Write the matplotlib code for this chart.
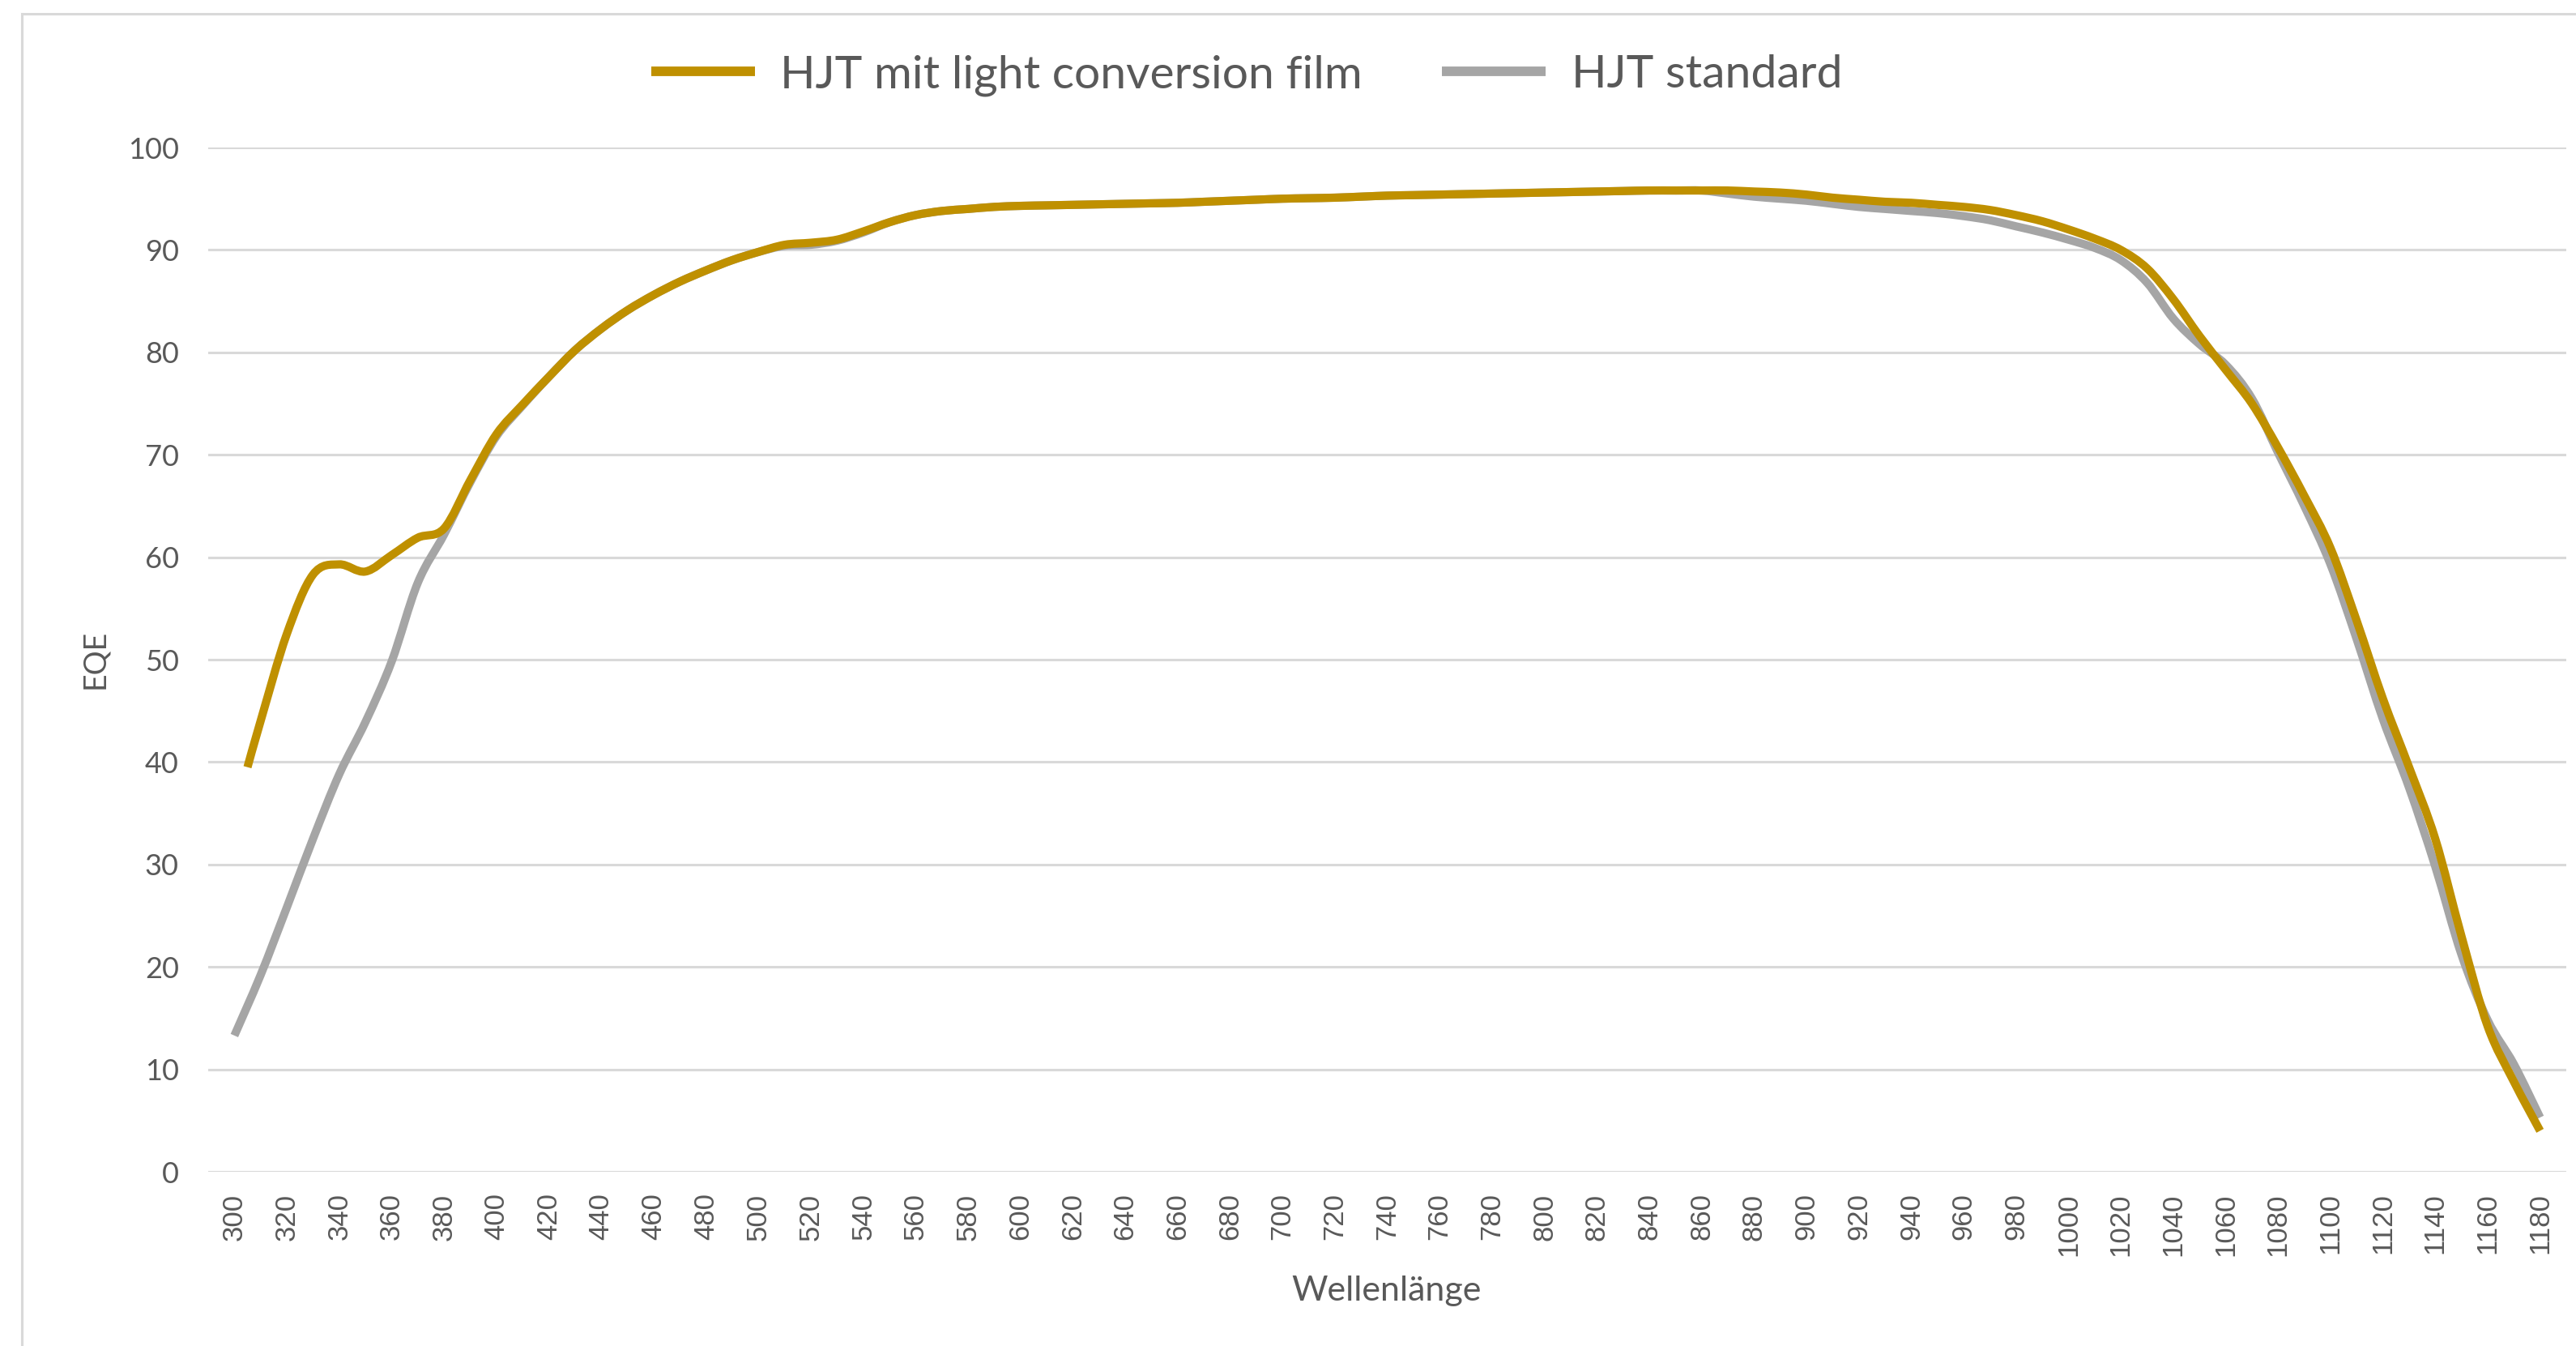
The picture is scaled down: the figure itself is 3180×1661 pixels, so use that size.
import numpy as np
import matplotlib
matplotlib.use("Agg")
import matplotlib.pyplot as plt
from matplotlib.path import Path
from matplotlib.patches import PathPatch
from matplotlib.lines import Line2D

# ---------------- data ----------------
wavelength_std = list(range(300, 1181, 10))
eqe_standard = [
    13.3, 19.2, 25.8, 32.5, 38.8, 43.9, 49.8, 57.5, 62.2, 67.3,   # 300-390
    71.8, 74.8, 77.6, 80.2, 82.3, 84.1, 85.6, 86.9, 88.0, 89.0,   # 400-490
    89.8, 90.4, 90.5, 90.9, 91.7, 92.7, 93.4, 93.8, 94.0, 94.2,   # 500-590
    94.3, 94.35, 94.4, 94.45, 94.5, 94.55, 94.6, 94.7, 94.8, 94.9,  # 600-690
    95.0, 95.05, 95.1, 95.2, 95.3, 95.35, 95.4, 95.45, 95.5, 95.55,  # 700-790
    95.6, 95.65, 95.7, 95.75, 95.8, 95.8, 95.8, 95.5, 95.2, 95.0,  # 800-890
    94.8, 94.5, 94.2, 94.0, 93.8, 93.6, 93.3, 92.9, 92.3, 91.7,   # 900-990
    91.0, 90.2, 89.0, 86.8, 83.3, 80.8, 78.8, 75.5, 70.2, 65.0,   # 1000-1090
    59.3, 52.0, 44.2, 37.5, 29.8, 21.2, 14.8, 10.5, 5.3,          # 1100-1180
]

wavelength_film = [305] + list(range(310, 1181, 10))
eqe_film = [
    39.5, 44.0, 52.5, 58.3, 59.3, 58.6, 60.2, 61.9, 62.8, 67.5,   # 305-390
    72.0, 74.9, 77.6, 80.2, 82.3, 84.1, 85.6, 86.9, 88.0, 89.0,   # 400-490
    89.8, 90.5, 90.7, 91.0, 91.8, 92.7, 93.4, 93.8, 94.0, 94.2,   # 500-590
    94.3, 94.35, 94.4, 94.45, 94.5, 94.55, 94.6, 94.7, 94.8, 94.9,  # 600-690
    95.0, 95.05, 95.1, 95.2, 95.3, 95.35, 95.4, 95.45, 95.5, 95.55,  # 700-790
    95.6, 95.65, 95.7, 95.75, 95.8, 95.8, 95.8, 95.8, 95.7, 95.6,  # 800-890
    95.4, 95.1, 94.9, 94.7, 94.6, 94.4, 94.2, 93.9, 93.4, 92.8,   # 900-990
    92.0, 91.1, 90.0, 88.2, 85.2, 81.6, 78.3, 75.0, 70.7, 66.0,   # 1000-1090
    60.9, 53.8, 46.2, 39.5, 32.5, 23.0, 14.2, 8.8, 4.0,           # 1100-1180
]

series_labels = ["HJT mit light conversion film", "HJT standard"]
xtick_values = list(range(300, 1181, 20))
ytick_values = list(range(0, 101, 10))
x_title = "Wellenlänge"
y_title = "EQE"

# ---------------- style ----------------
GOLD = "#BF9000"
GREY = "#A5A5A5"
GRID = "#D9D9D9"
TEXT = "#595959"
W, H = 3180, 1661

fig = plt.figure(figsize=(W / 100, H / 100), dpi=100)
fig.patch.set_facecolor("white")

# outer chart frame (left/top visible)
fig.add_artist(Line2D([27 / W, 27 / W], [0, 1 - 17 / H], color=GRID, lw=2.2,
                      transform=fig.transFigure))
fig.add_artist(Line2D([27 / W, 1], [1 - 17 / H, 1 - 17 / H], color=GRID, lw=2.2,
                      transform=fig.transFigure))

L, R, T, B = 257, 3168, 182, 1446
ax = fig.add_axes([L / W, 1 - B / H, (R - L) / W, (B - T) / H])
ax.set_xlim(290, 1190)
ax.set_ylim(0, 100)
for s in ax.spines.values():
    s.set_visible(False)

ax.set_yticks(ytick_values)
ax.set_xticks(xtick_values)
ax.set_xticklabels([str(v) for v in xtick_values], rotation=90,
                   fontfamily="Liberation Sans", fontsize=25, color=TEXT)
ax.set_yticklabels([str(v) for v in ytick_values],
                   fontfamily="Lato", fontsize=26, color=TEXT)
ax.tick_params(axis="x", length=0, pad=19)
ax.tick_params(axis="y", length=0, pad=26)
ax.grid(axis="y", color=GRID, lw=2.2)
ax.set_axisbelow(True)


def smooth_path(x, y):
    pts = np.column_stack([x, y]).astype(float)
    verts = [pts[0]]
    codes = [Path.MOVETO]
    n = len(pts)
    for i in range(n - 1):
        p0 = pts[i - 1] if i > 0 else pts[i]
        p1 = pts[i]
        p2 = pts[i + 1]
        p3 = pts[i + 2] if i + 2 < n else pts[i + 1]
        c1 = p1 + (p2 - p0) / 6.0
        c2 = p2 - (p3 - p1) / 6.0
        verts += [c1, c2, p2]
        codes += [Path.CURVE4] * 3
    return Path(verts, codes)


for xs, ys, col in [(wavelength_std, eqe_standard, GREY),
                    (wavelength_film, eqe_film, GOLD)]:
    patch = PathPatch(smooth_path(xs, ys), facecolor="none", edgecolor=col,
                      lw=7.3, capstyle="butt", joinstyle="round", zorder=3)
    ax.add_patch(patch)

# axis titles
fig.text(1712 / W, 1 - 1593 / H, x_title, ha="center", va="center",
         fontfamily="Lato", fontsize=31, color=TEXT)
fig.text(117 / W, 1 - 813 / H, y_title, ha="center", va="center", rotation=90,
         fontfamily="Lato", fontsize=27, color=TEXT)

# legend
handles = [Line2D([], [], color=GOLD, lw=8.5, solid_capstyle="butt"),
           Line2D([], [], color=GREY, lw=8.5, solid_capstyle="butt")]
leg = fig.legend(handles, series_labels, ncol=2, loc="center",
                 bbox_to_anchor=(1539 / W, 1 - 93 / H), frameon=False,
                 prop={"family": "Lato", "size": 41},
                 handlelength=2.25, handletextpad=0.55, columnspacing=1.72,
                 borderpad=0, borderaxespad=0)
for t in leg.get_texts():
    t.set_color(TEXT)

fig.savefig("out.png", dpi=100, facecolor="white")
